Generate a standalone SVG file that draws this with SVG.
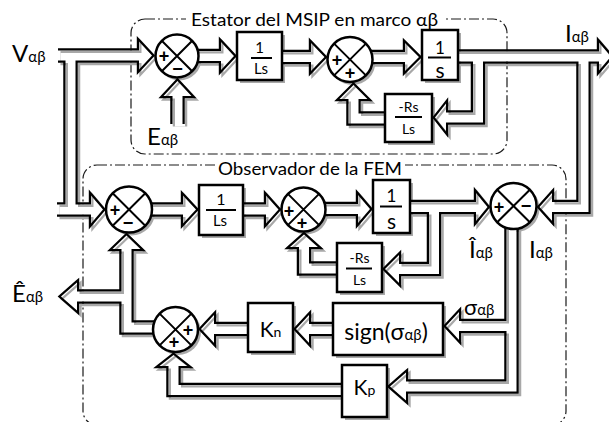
<svg xmlns="http://www.w3.org/2000/svg" xmlns:xlink="http://www.w3.org/1999/xlink" width="609" height="422" viewBox="0 0 609 422">
<style>
.t{font-family:Lato,'Open Sans','Liberation Sans',sans-serif;fill:#000}
.b{font-size:24px}
.s{font-size:15px}
.m{text-anchor:middle}
.dd{fill:none;stroke:#1a1a1a;stroke-width:1.2;stroke-dasharray:10 3 2 3}
.sh{fill:#a8a8a8}
.nd rect,.nd circle{fill:#fff;stroke:#000;stroke-width:2.5}
.xl{fill:none;stroke:#000;stroke-width:2}
.fl{stroke:#000;stroke-width:2}
.sg{font-family:'Liberation Sans',Arial,sans-serif;font-weight:bold;font-size:18px;text-anchor:middle;fill:#000}
</style>
<defs>
<g id="bp">
<path d="M58,55.5H141"/>
<path d="M177.5,124V94"/>
<path d="M177,56H223"/>
<path d="M259.5,57H313"/>
<path d="M350,57H407"/>
<path d="M440,56.5H601"/>
<path d="M478,56.5V117.5H444"/>
<path d="M408.5,118.5H353.5V97"/>
<path d="M583.5,56.5V207H550"/>
<path d="M70.5,56V209.5"/>
<path d="M57,209.5H93"/>
<path d="M129,209.5H185"/>
<path d="M221,209.5H268"/>
<path d="M303.5,209H360"/>
<path d="M391.5,207H478"/>
<path d="M434,207V269H397"/>
<path d="M359.5,268.5H304V245"/>
<path d="M511.5,206V386.5H404"/>
<path d="M511.5,326H457"/>
<path d="M388,329H307"/>
<path d="M270.5,329H212"/>
<path d="M364.5,390H173.5V364"/>
<path d="M175.5,327.5H126.5V247"/>
<path d="M126.5,296.5H75"/>
</g>
<g id="ah">
<polygon points="139,41.5 152,55.5 139,69.5"/>
<polygon points="163.5,96 177.5,81 191.5,96"/>
<polygon points="221,42 234,56 221,70"/>
<polygon points="311,43 324.5,57 311,71"/>
<polygon points="405,43 419,57 405,71"/>
<polygon points="599,42.5 611,56.5 599,70.5"/>
<polygon points="446,103.5 435,117.5 446,131.5"/>
<polygon points="339.5,99 353.5,85 367.5,99"/>
<polygon points="552,193 539.5,207 552,221"/>
<polygon points="91,195.5 103,209.5 91,223.5"/>
<polygon points="183,195.5 196,209.5 183,223.5"/>
<polygon points="266,195.5 278.5,209.5 266,223.5"/>
<polygon points="358,195 370,209 358,223"/>
<polygon points="476,193 487.5,207 476,221"/>
<polygon points="399,255 385,269 399,283"/>
<polygon points="290,247 304,234.5 318,247"/>
<polygon points="406,372.5 390,386.5 406,400.5"/>
<polygon points="459,312 446,326 459,340"/>
<polygon points="309,315 296,329 309,343"/>
<polygon points="214,315 201,329 214,343"/>
<polygon points="159.5,366 173.5,355 187.5,366"/>
<polygon points="112.5,249 126.5,235.5 140.5,249"/>
<polygon points="77,282.5 61,296.5 77,310.5"/>
</g>
<mask id="hm" maskUnits="userSpaceOnUse" x="-20" y="-20" width="660" height="470">
<rect x="-20" y="-20" width="660" height="470" fill="#fff"/>
<use xlink:href="#bp" href="#bp" fill="none" stroke="#000" stroke-width="10"/>
<use xlink:href="#ah" href="#ah" fill="#000"/>
</mask>
<g id="ring" mask="url(#hm)">
<use xlink:href="#bp" href="#bp" fill="none" stroke="currentColor" stroke-width="14.5" stroke-linejoin="miter"/>
<use xlink:href="#ah" href="#ah" fill="currentColor" stroke="currentColor" stroke-width="4.4" stroke-linejoin="miter"/>
</g>
</defs>

<g id="frames">
<rect class="dd" x="131" y="19" width="376" height="135" rx="14"/>
<rect class="dd" x="83" y="165" width="483" height="260" rx="14"/>
<rect x="186" y="11" width="257" height="17" fill="#fff"/>
<text class="t" x="191" y="26" font-size="17" textLength="247" lengthAdjust="spacingAndGlyphs">Estator del MSIP en marco αβ</text>
<rect x="216" y="158" width="189" height="19" fill="#fff"/>
<text class="t" x="218" y="175" font-size="17" textLength="184" lengthAdjust="spacingAndGlyphs">Observador de la FEM</text>
</g>

<g id="node-shadows" class="sh">
<circle cx="179.5" cy="58.5" r="22"/>
<circle cx="352.5" cy="62" r="23"/>
<circle cx="131.5" cy="212" r="23.5"/>
<circle cx="306" cy="212" r="22.5"/>
<circle cx="516" cy="208.5" r="23.5"/>
<circle cx="178" cy="332" r="23"/>
<rect x="240" y="35" width="45" height="48"/>
<rect x="425" y="33" width="36" height="50"/>
<rect x="388" y="97" width="47" height="48"/>
<rect x="202" y="188" width="44" height="50"/>
<rect x="376" y="183" width="37" height="53"/>
<rect x="340" y="246" width="45" height="49"/>
<rect x="251" y="306" width="45" height="49"/>
<rect x="336" y="306" width="110" height="52"/>
<rect x="345" y="368" width="45" height="52"/>
</g>

<g id="connectors">
<use xlink:href="#bp" href="#bp" fill="none" stroke="#fff" stroke-width="10"/>
<use xlink:href="#ah" href="#ah" fill="#fff"/>
<use xlink:href="#ring" href="#ring" transform="translate(2.5,2.5)" style="color:#a8a8a8"/>
<use xlink:href="#ring" href="#ring" style="color:#000"/>
</g>

<g id="sum1" class="nd">
<circle cx="177" cy="56" r="21.5"/>
<path class="xl" d="M161.8,40.8L192.2,71.2M161.8,71.2L192.2,40.8"/>
<text class="sg" x="164" y="62">+</text>
<text class="sg" x="177.5" y="74.5">−</text>
</g>
<g id="sum2" class="nd">
<circle cx="350" cy="59.5" r="22.5"/>
<path class="xl" d="M334.1,43.6L365.9,75.4M334.1,75.4L365.9,43.6"/>
<text class="sg" x="337" y="66">+</text>
<text class="sg" x="350" y="79">+</text>
</g>
<g id="sum3" class="nd">
<circle cx="129" cy="209.5" r="23"/>
<path class="xl" d="M112.7,193.2L145.3,225.8M112.7,225.8L145.3,193.2"/>
<text class="sg" x="115" y="216">+</text>
<text class="sg" x="128" y="228.5">−</text>
</g>
<g id="sum5" class="nd">
<circle cx="303.5" cy="209.5" r="22"/>
<path class="xl" d="M287.9,193.9L319.1,225.1M287.9,225.1L319.1,193.9"/>
<text class="sg" x="289" y="216.5">+</text>
<text class="sg" x="302" y="228.5">+</text>
</g>
<g id="sum4" class="nd">
<circle cx="513.5" cy="206" r="23"/>
<path class="xl" d="M497.2,189.7L529.8,222.3M497.2,222.3L529.8,189.7"/>
<text class="sg" x="499" y="213">+</text>
<text class="sg" x="526" y="212">−</text>
</g>
<g id="sum6" class="nd">
<circle cx="175.5" cy="329.5" r="22.5"/>
<path class="xl" d="M159.6,313.6L191.4,345.4M159.6,345.4L191.4,313.6"/>
<text class="sg" x="188" y="335.5">+</text>
<text class="sg" x="174" y="347.5">+</text>
</g>

<g id="b-1Ls-top" class="nd">
<rect x="237" y="32" width="45" height="48"/>
<text class="t m" x="259.5" y="53" font-size="15">1</text>
<line class="fl" x1="251" y1="58" x2="272" y2="58"/>
<text class="t m" x="261" y="74" font-size="15">Ls</text>
</g>
<g id="b-1s-top" class="nd">
<rect x="422" y="30" width="36" height="50"/>
<text class="t m" x="440" y="53.5" font-size="17">1</text>
<line class="fl" x1="428" y1="57.5" x2="451" y2="57.5"/>
<text class="t m" x="440" y="78" font-size="21">s</text>
</g>
<g id="b-RsLs-top" class="nd">
<rect x="385" y="94" width="47" height="48"/>
<text class="t m" x="408.5" y="112" font-size="14">-Rs</text>
<line class="fl" x1="395" y1="117" x2="422" y2="117"/>
<text class="t m" x="408.5" y="134" font-size="14">Ls</text>
</g>
<g id="b-1Ls-obs" class="nd">
<rect x="199" y="185" width="44" height="50"/>
<text class="t m" x="221" y="205" font-size="16">1</text>
<line class="fl" x1="206" y1="210" x2="236" y2="210"/>
<text class="t m" x="220" y="226" font-size="15">Ls</text>
</g>
<g id="b-1s-obs" class="nd">
<rect x="373" y="180" width="37" height="53"/>
<text class="t m" x="391.5" y="202" font-size="17">1</text>
<line class="fl" x1="380" y1="206.5" x2="402" y2="206.5"/>
<text class="t m" x="391.5" y="228.5" font-size="21">s</text>
</g>
<g id="b-RsLs-obs" class="nd">
<rect x="337" y="243" width="45" height="49"/>
<text class="t m" x="359.5" y="263" font-size="14">-Rs</text>
<line class="fl" x1="346" y1="268.5" x2="372" y2="268.5"/>
<text class="t m" x="359.5" y="285" font-size="14">Ls</text>
</g>
<g id="b-Kn" class="nd">
<rect x="248" y="303" width="45" height="49"/>
<text class="t m" x="270.5" y="337"><tspan font-size="21">K</tspan><tspan font-size="14">n</tspan></text>
</g>
<g id="b-sign" class="nd">
<rect x="333" y="303" width="110" height="52"/>
<text class="t m" x="386" y="340" font-size="23">sign(σ<tspan font-size="15">αβ</tspan>)</text>
</g>
<g id="b-Kp" class="nd">
<rect x="342" y="365" width="45" height="52"/>
<text class="t m" x="364.5" y="395"><tspan font-size="21">K</tspan><tspan font-size="14">p</tspan></text>
</g>

<g id="labels">
<text class="t b" x="12" y="62">V<tspan class="s">αβ</tspan></text>
<text class="t b" x="147" y="145">E<tspan class="s">αβ</tspan></text>
<text class="t b" x="565" y="42">I<tspan class="s">αβ</tspan></text>
<text class="t b" x="469" y="258">Î<tspan class="s">αβ</tspan></text>
<text class="t b" x="529" y="258">I<tspan class="s">αβ</tspan></text>
<text class="t" x="464" y="315" font-size="22">σ<tspan class="s">αβ</tspan></text>
<text class="t b" x="12" y="302">Ê<tspan class="s">αβ</tspan></text>
</g>
</svg>
